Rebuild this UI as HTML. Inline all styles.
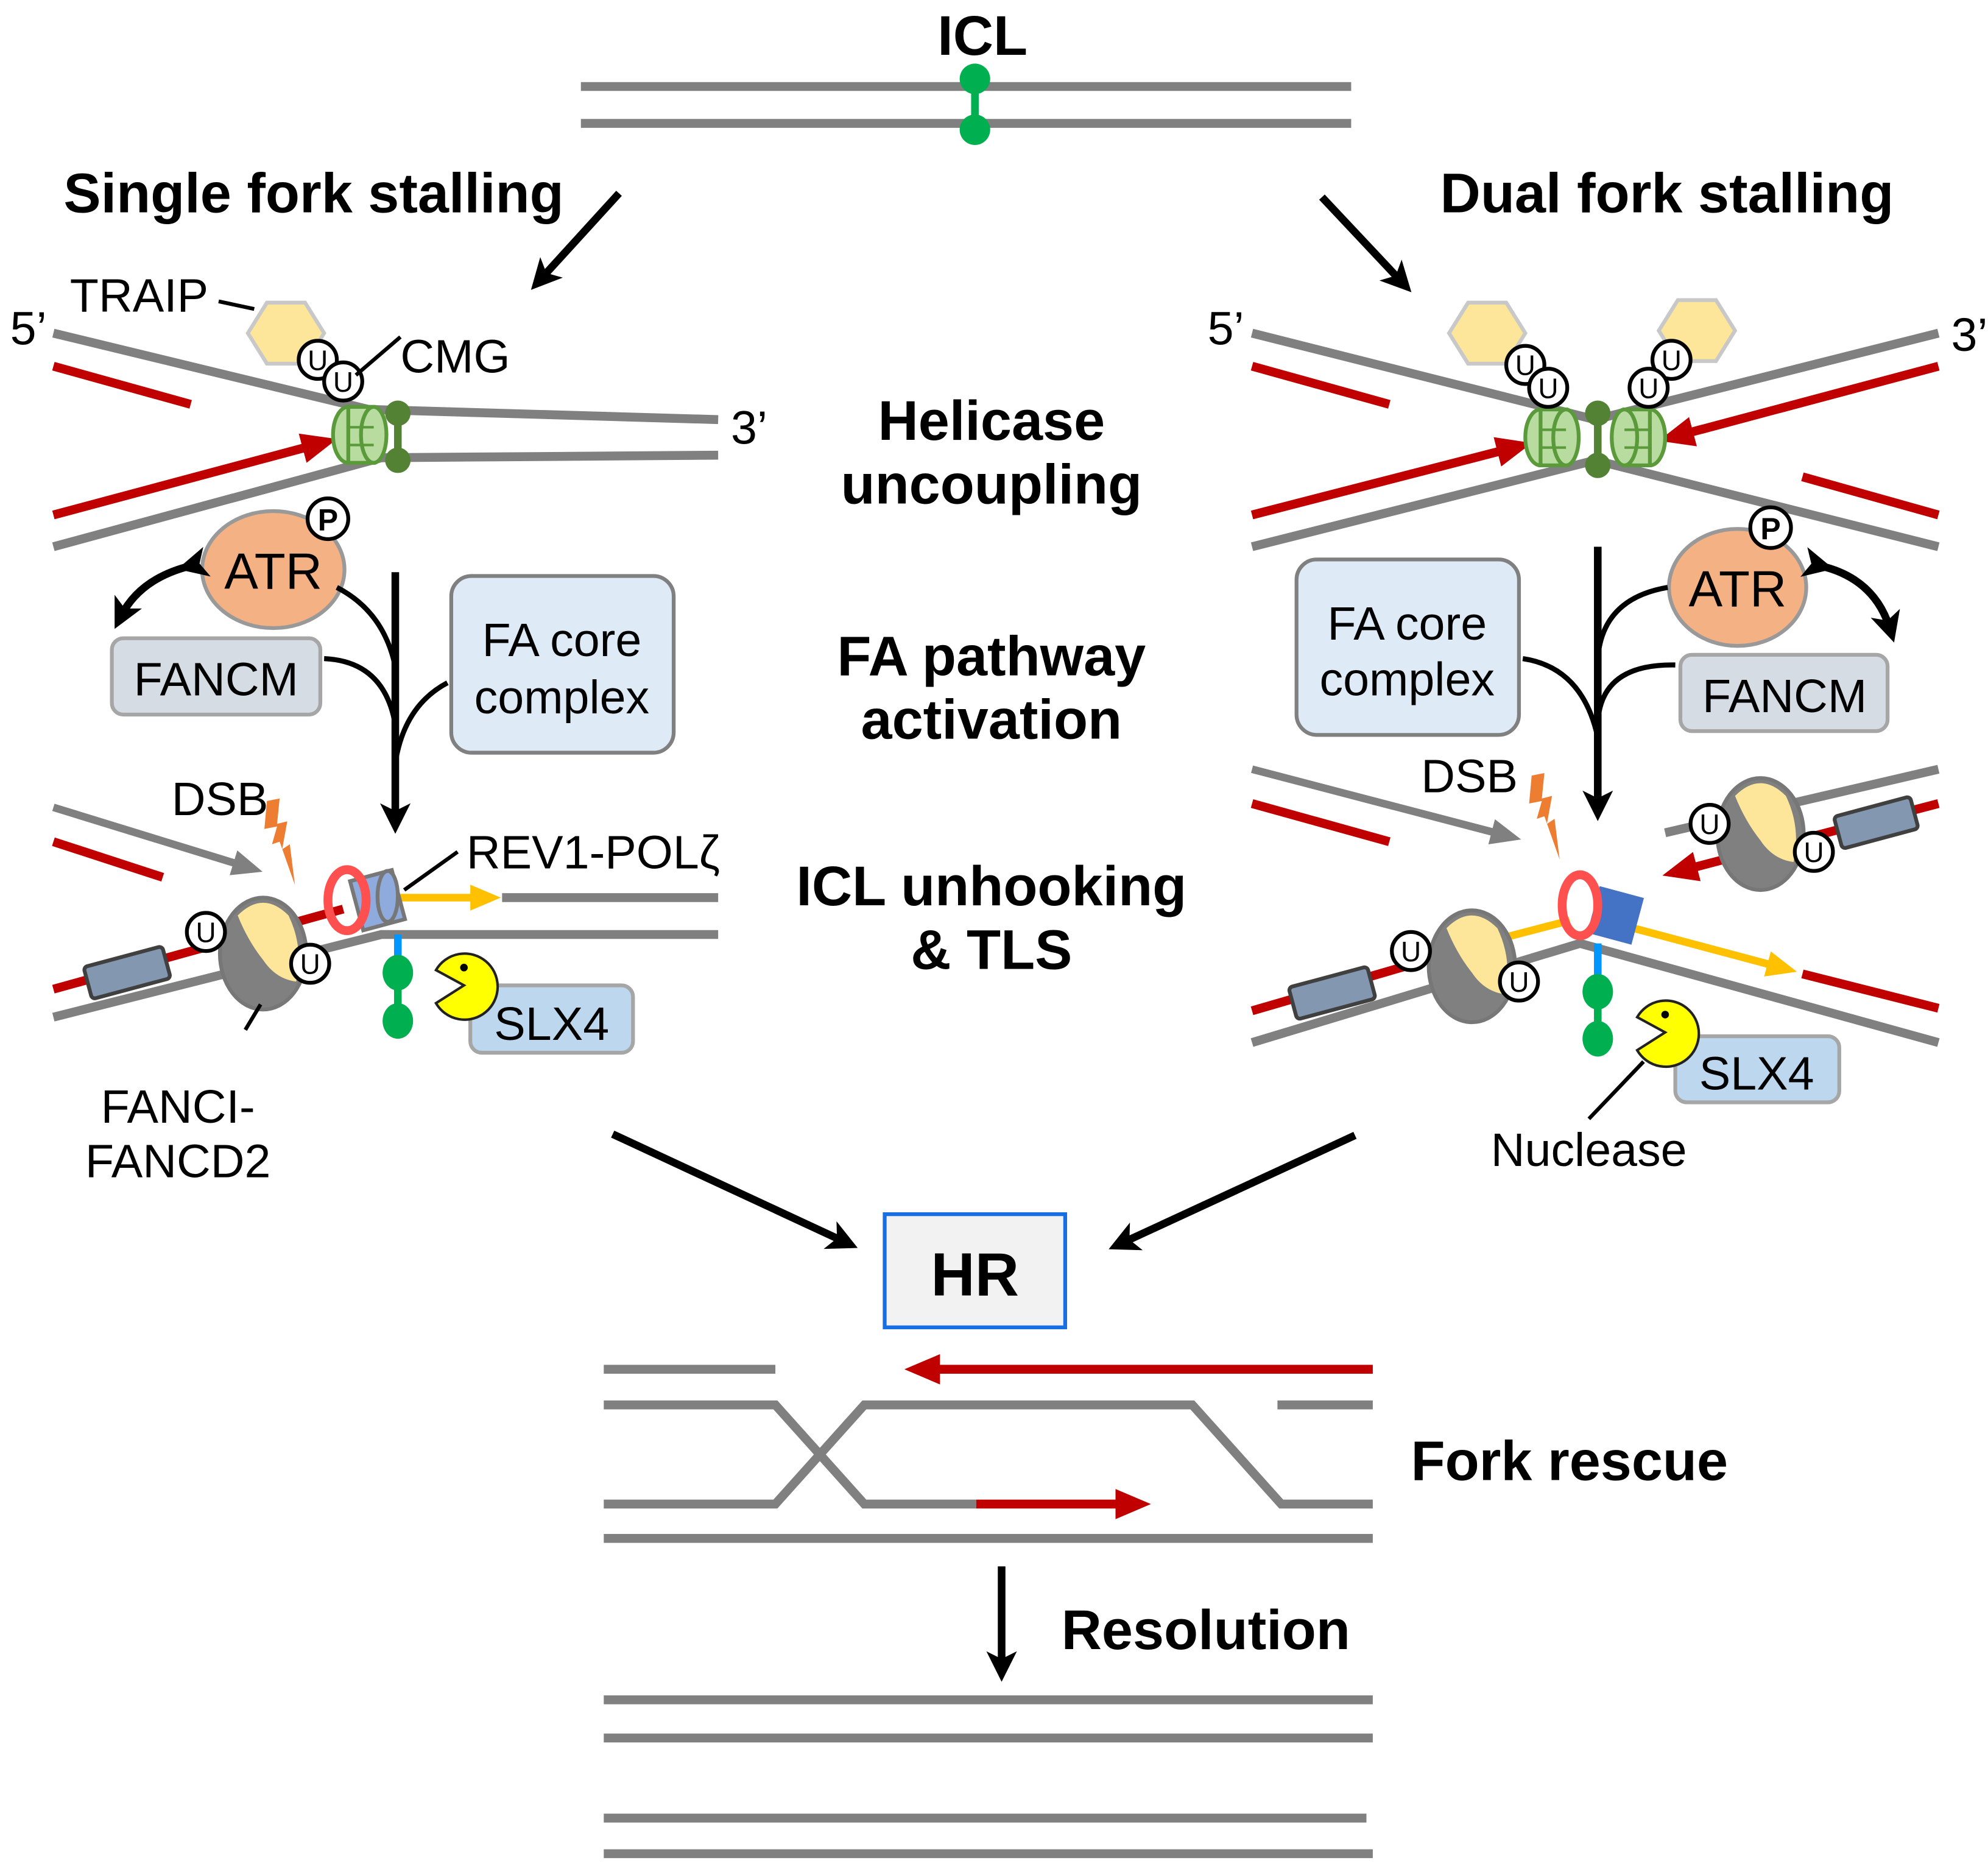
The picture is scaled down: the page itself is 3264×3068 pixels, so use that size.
<!DOCTYPE html>
<html><head><meta charset="utf-8"><style>
html,body{margin:0;padding:0;background:#fff;}
svg{display:block;}
text{font-family:"Liberation Sans",sans-serif;}
.b{font-weight:bold;font-size:44px;}
.n{font-size:37px;}
</style></head><body>
<svg width="3264" height="3068" viewBox="0 0 1564 1470" xmlns="http://www.w3.org/2000/svg">
<defs>
<marker id="ak" markerWidth="4" markerHeight="4" refX="2.2" refY="2" orient="auto" markerUnits="strokeWidth"><path d="M0,0 L4,2 L0,4 L1,2z" fill="#000"/></marker>
<marker id="ar" markerWidth="4" markerHeight="4" refX="2.5" refY="2" orient="auto" markerUnits="strokeWidth"><path d="M0,0.3 L4,2 L0,3.7z" fill="#c00000"/></marker>
<marker id="ag" markerWidth="4" markerHeight="4" refX="2.5" refY="2" orient="auto" markerUnits="strokeWidth"><path d="M0,0.3 L4,2 L0,3.7z" fill="#808080"/></marker>
<marker id="ay" markerWidth="4" markerHeight="4" refX="2.5" refY="2" orient="auto" markerUnits="strokeWidth"><path d="M0,0.3 L4,2 L0,3.7z" fill="#ffc000"/></marker>
<g id="hex"><polygon points="-30,0 -15,-24 15,-24 30,0 15,24 -15,24" fill="#fde69a" stroke="#c8c8c8" stroke-width="3"/></g>
<g id="u"><circle r="15" fill="#fff" stroke="#000" stroke-width="3"/><text y="8" text-anchor="middle" font-size="22">U</text></g>
<g id="cmg"><ellipse cx="-8" cy="0" rx="12" ry="22" fill="#b8dca0" stroke="#5a9a3a" stroke-width="3"/><rect x="-8" y="-22" width="20" height="44" fill="#b8dca0" stroke="#5a9a3a" stroke-width="3"/><ellipse cx="12" cy="0" rx="10" ry="22" fill="#b8dca0" stroke="#5a9a3a" stroke-width="3"/><line x1="-8" y1="-6" x2="12" y2="-6" stroke="#5a9a3a" stroke-width="2"/><line x1="-8" y1="8" x2="12" y2="8" stroke="#5a9a3a" stroke-width="2"/></g>
<g id="fd2"><ellipse cx="0" cy="0" rx="34" ry="44" fill="#808080" stroke="#777" stroke-width="3"/><path d="M-20,-30 Q0,-50 20,-30 Q32,-5 26,22 Q10,20 0,5 Q-12,-10 -20,-30z" fill="#fde69a"/></g>
<g id="pac"><path d="M0,0 L-22,-12 A26,26 0 1 1 -22,14z" fill="#ffff00" stroke="#222" stroke-width="2"/><circle cx="0" cy="-14" r="3" fill="#000"/></g>
<g id="bolt"><polygon points="-12,-38 -2,-40 -4,-20 4,-22 0,0 6,-4 10,28 -2,-6 -8,-4 -4,-18 -14,-16" fill="#ed7d31"/></g>
</defs>

<!-- ICL -->
<text x="773" y="43" class="b" text-anchor="middle">ICL</text>
<line x1="457" y1="68" x2="1063" y2="68" stroke="#808080" stroke-width="7"/>
<line x1="457" y1="97" x2="1063" y2="97" stroke="#808080" stroke-width="7"/>
<line x1="767" y1="62" x2="767" y2="102" stroke="#00b050" stroke-width="6"/>
<circle cx="767" cy="62" r="12" fill="#00b050"/><circle cx="767" cy="102" r="12" fill="#00b050"/>

<text x="50" y="167" class="b">Single fork stalling</text>
<text x="1133" y="167" class="b">Dual fork stalling</text>
<line x1="487" y1="152" x2="425" y2="220" stroke="#000" stroke-width="6" marker-end="url(#ak)"/>
<line x1="1040" y1="155" x2="1103" y2="222" stroke="#000" stroke-width="6" marker-end="url(#ak)"/>

<!-- center labels -->
<g class="b" text-anchor="middle">
<text x="780" y="346">Helicase</text><text x="780" y="396">uncoupling</text>
<text x="780" y="531">FA pathway</text><text x="780" y="581">activation</text>
<text x="780" y="712">ICL unhooking</text><text x="780" y="762">&amp; TLS</text>
</g>

<!-- LEFT fork -->
<polyline points="42,262 290,322 565,330" fill="none" stroke="#808080" stroke-width="7"/>
<polyline points="42,430 300,360 565,358" fill="none" stroke="#808080" stroke-width="7"/>
<line x1="42" y1="288" x2="150" y2="318" stroke="#c00000" stroke-width="7"/>
<line x1="42" y1="405" x2="255" y2="348" stroke="#c00000" stroke-width="7" marker-end="url(#ar)"/>
<use href="#cmg" x="282" y="342"/>
<line x1="313" y1="325" x2="313" y2="362" stroke="#548235" stroke-width="6"/>
<circle cx="313" cy="325" r="10" fill="#548235"/><circle cx="313" cy="362" r="10" fill="#548235"/>
<use href="#hex" x="225" y="262"/>
<use href="#u" x="250" y="283"/><use href="#u" x="270" y="300"/>
<line x1="280" y1="295" x2="315" y2="265" stroke="#000" stroke-width="3"/>
<line x1="172" y1="237" x2="200" y2="243" stroke="#000" stroke-width="3"/>
<text x="8" y="271" class="n">5’</text>
<text x="55" y="245" class="n">TRAIP</text>
<text x="315" y="293" class="n">CMG</text>
<text x="575" y="349" class="n">3’</text>

<ellipse cx="215" cy="448" rx="56" ry="46" fill="#f4b183" stroke="#999" stroke-width="3"/>
<text x="215" y="463" text-anchor="middle" font-size="40">ATR</text>
<circle cx="258" cy="408" r="16" fill="#fff" stroke="#000" stroke-width="3"/>
<text x="258" y="417" text-anchor="middle" font-size="24" font-weight="bold">P</text>
<path d="M150,445 Q110,455 95,485" fill="none" stroke="#000" stroke-width="6" marker-end="url(#ak)" marker-start="url(#ak)"/>
<rect x="88" y="502" width="164" height="60" rx="9" fill="#d6dce4" stroke="#a6a6a6" stroke-width="3"/>
<text x="170" y="547" text-anchor="middle" font-size="37">FANCM</text>
<rect x="355" y="453" width="175" height="139" rx="16" fill="#deebf7" stroke="#808080" stroke-width="3"/>
<text x="442" y="516" text-anchor="middle" font-size="37">FA core</text>
<text x="442" y="561" text-anchor="middle" font-size="37">complex</text>
<line x1="311" y1="450" x2="311" y2="645" stroke="#000" stroke-width="6" marker-end="url(#ak)"/>
<path d="M265,462 Q300,480 310,520" fill="none" stroke="#000" stroke-width="4"/>
<path d="M255,518 Q300,520 310,565" fill="none" stroke="#000" stroke-width="4"/>
<path d="M352,537 Q318,555 311,600" fill="none" stroke="#000" stroke-width="4"/>

<line x1="42" y1="635" x2="198" y2="683" stroke="#808080" stroke-width="6" marker-end="url(#ag)"/>
<line x1="42" y1="662" x2="128" y2="690" stroke="#c00000" stroke-width="7"/>
<text x="135" y="641" class="n">DSB</text>
<use href="#bolt" x="222" y="668"/>
<polyline points="42,800 300,735 565,735" fill="none" stroke="#808080" stroke-width="7"/>
<line x1="42" y1="778" x2="270" y2="715" stroke="#c00000" stroke-width="7"/>
<line x1="395" y1="706" x2="565" y2="706" stroke="#808080" stroke-width="7"/>
<line x1="315" y1="706" x2="385" y2="706" stroke="#ffc000" stroke-width="6" marker-end="url(#ay)"/>
<rect x="280" y="688" width="34" height="40" fill="#8faadc" stroke="#777" stroke-width="3" transform="rotate(-15 297 708)"/>
<ellipse cx="305" cy="705" rx="8" ry="20" fill="#8faadc" stroke="#777" stroke-width="3"/>
<ellipse cx="273" cy="708" rx="15" ry="24" fill="none" stroke="#ff5050" stroke-width="7"/>
<rect x="68" y="752" width="64" height="26" rx="3" fill="#8497b0" stroke="#404040" stroke-width="3" transform="rotate(-15 100 765)"/>
<use href="#fd2" x="207" y="750"/>
<use href="#u" x="162" y="733"/><use href="#u" x="244" y="758"/>
<line x1="205" y1="790" x2="193" y2="810" stroke="#000" stroke-width="3"/>
<line x1="313" y1="735" x2="313" y2="760" stroke="#0096ff" stroke-width="6"/>
<line x1="313" y1="765" x2="313" y2="805" stroke="#00b050" stroke-width="6"/>
<ellipse cx="313" cy="765" rx="12" ry="14" fill="#00b050"/><ellipse cx="313" cy="803" rx="12" ry="14" fill="#00b050"/>
<rect x="370" y="775" width="128" height="53" rx="9" fill="#bdd7ee" stroke="#a6a6a6" stroke-width="3"/>
<use href="#pac" x="365" y="775"/>
<text x="434" y="818" text-anchor="middle" font-size="37">SLX4</text>
<line x1="318" y1="700" x2="360" y2="670" stroke="#000" stroke-width="3"/>
<text x="367" y="683" class="n">REV1-POLζ</text>
<text x="140" y="883" text-anchor="middle" class="n">FANCI-</text>
<text x="140" y="926" text-anchor="middle" class="n">FANCD2</text>

<!-- RIGHT fork -->
<polyline points="985,262 1255,330 1525,262" fill="none" stroke="#808080" stroke-width="7"/>
<polyline points="985,430 1255,362 1525,430" fill="none" stroke="#808080" stroke-width="7"/>
<line x1="985" y1="288" x2="1093" y2="318" stroke="#c00000" stroke-width="7"/>
<line x1="985" y1="405" x2="1195" y2="351" stroke="#c00000" stroke-width="7" marker-end="url(#ar)"/>
<line x1="1525" y1="288" x2="1315" y2="344" stroke="#c00000" stroke-width="7" marker-end="url(#ar)"/>
<line x1="1418" y1="375" x2="1525" y2="405" stroke="#c00000" stroke-width="7"/>
<use href="#cmg" x="1220" y="344"/>
<use href="#cmg" x="1290" y="344" transform="translate(2580 0) scale(-1 1)"/>
<line x1="1257" y1="325" x2="1257" y2="366" stroke="#548235" stroke-width="6"/>
<circle cx="1257" cy="325" r="10" fill="#548235"/><circle cx="1257" cy="366" r="10" fill="#548235"/>
<use href="#hex" x="1170" y="262"/><use href="#hex" x="1335" y="260"/>
<use href="#u" x="1200" y="287"/><use href="#u" x="1218" y="305"/>
<use href="#u" x="1315" y="283"/><use href="#u" x="1297" y="305"/>
<text x="950" y="271" class="n">5’</text>
<text x="1535" y="276" class="n">3’</text>

<ellipse cx="1367" cy="462" rx="54" ry="46" fill="#f4b183" stroke="#999" stroke-width="3"/>
<text x="1367" y="477" text-anchor="middle" font-size="40">ATR</text>
<circle cx="1393" cy="415" r="16" fill="#fff" stroke="#000" stroke-width="3"/>
<text x="1393" y="424" text-anchor="middle" font-size="24" font-weight="bold">P</text>
<path d="M1432,445 Q1475,455 1487,495" fill="none" stroke="#000" stroke-width="6" marker-end="url(#ak)" marker-start="url(#ak)"/>
<rect x="1322" y="515" width="163" height="60" rx="9" fill="#d6dce4" stroke="#a6a6a6" stroke-width="3"/>
<text x="1404" y="560" text-anchor="middle" font-size="37">FANCM</text>
<rect x="1020" y="440" width="175" height="138" rx="16" fill="#deebf7" stroke="#808080" stroke-width="3"/>
<text x="1107" y="503" text-anchor="middle" font-size="37">FA core</text>
<text x="1107" y="547" text-anchor="middle" font-size="37">complex</text>
<line x1="1257" y1="430" x2="1257" y2="635" stroke="#000" stroke-width="6" marker-end="url(#ak)"/>
<path d="M1312,462 Q1265,470 1258,510" fill="none" stroke="#000" stroke-width="4"/>
<path d="M1318,523 Q1265,522 1258,560" fill="none" stroke="#000" stroke-width="4"/>
<path d="M1198,518 Q1245,525 1257,580" fill="none" stroke="#000" stroke-width="4"/>

<line x1="985" y1="605" x2="1188" y2="658" stroke="#808080" stroke-width="6" marker-end="url(#ag)"/>
<line x1="985" y1="632" x2="1093" y2="662" stroke="#c00000" stroke-width="7"/>
<text x="1118" y="623" class="n">DSB</text>
<use href="#bolt" x="1217" y="648"/>
<line x1="1310" y1="655" x2="1525" y2="605" stroke="#808080" stroke-width="7"/>
<line x1="1525" y1="632" x2="1318" y2="686" stroke="#c00000" stroke-width="7" marker-end="url(#ar)"/>
<rect x="1445" y="634" width="62" height="26" rx="3" fill="#8497b0" stroke="#404040" stroke-width="3" transform="rotate(-15 1476 647)"/>
<use href="#fd2" x="1385" y="656"/>
<use href="#u" x="1345" y="648"/><use href="#u" x="1427" y="670"/>

<polyline points="985,820 1243,742 1525,820" fill="none" stroke="#808080" stroke-width="7"/>
<line x1="985" y1="795" x2="1185" y2="737" stroke="#c00000" stroke-width="7"/>
<line x1="1185" y1="737" x2="1235" y2="724" stroke="#ffc000" stroke-width="6"/>
<line x1="1285" y1="730" x2="1405" y2="762" stroke="#ffc000" stroke-width="6" marker-end="url(#ay)"/>
<line x1="1418" y1="766" x2="1525" y2="793" stroke="#c00000" stroke-width="7"/>
<rect x="1254" y="702" width="34" height="36" fill="#4472c4" stroke="#4472c4" stroke-width="2" transform="rotate(15 1271 720)"/>
<ellipse cx="1243" cy="712" rx="14" ry="24" fill="none" stroke="#ff5050" stroke-width="7"/>
<rect x="1016" y="768" width="64" height="26" rx="3" fill="#8497b0" stroke="#404040" stroke-width="3" transform="rotate(-15 1048 781)"/>
<use href="#fd2" x="1158" y="760"/>
<use href="#u" x="1110" y="748"/><use href="#u" x="1195" y="772"/>
<line x1="1257" y1="742" x2="1257" y2="775" stroke="#0096ff" stroke-width="6"/>
<line x1="1257" y1="780" x2="1257" y2="818" stroke="#00b050" stroke-width="6"/>
<ellipse cx="1257" cy="780" rx="12" ry="14" fill="#00b050"/><ellipse cx="1257" cy="817" rx="12" ry="14" fill="#00b050"/>
<rect x="1318" y="815" width="129" height="52" rx="9" fill="#bdd7ee" stroke="#a6a6a6" stroke-width="3"/>
<use href="#pac" x="1310" y="812"/>
<text x="1382" y="857" text-anchor="middle" font-size="37">SLX4</text>
<line x1="1250" y1="880" x2="1293" y2="835" stroke="#000" stroke-width="3"/>
<text x="1250" y="917" text-anchor="middle" class="n">Nuclease</text>

<!-- HR -->
<line x1="482" y1="892" x2="665" y2="977" stroke="#000" stroke-width="6" marker-end="url(#ak)"/>
<line x1="1066" y1="893" x2="882" y2="978" stroke="#000" stroke-width="6" marker-end="url(#ak)"/>
<rect x="696" y="955" width="142" height="89" fill="#f2f2f2" stroke="#1a6fe0" stroke-width="3"/>
<text x="767" y="1019" text-anchor="middle" font-weight="bold" font-size="48">HR</text>

<!-- Fork rescue -->
<g fill="none" stroke="#808080" stroke-width="7">
<line x1="475" y1="1077" x2="610" y2="1077"/>
<polyline points="475,1105 610,1105 680,1183 768,1183"/>
<polyline points="475,1183 610,1183 680,1105 938,1105 1008,1183 1080,1183"/>
<line x1="1005" y1="1105" x2="1080" y2="1105"/>
<line x1="475" y1="1210" x2="1080" y2="1210"/>
<line x1="475" y1="1337" x2="1080" y2="1337"/>
<line x1="475" y1="1367" x2="1080" y2="1367"/>
<line x1="475" y1="1430" x2="1075" y2="1430"/>
<line x1="475" y1="1458" x2="1080" y2="1458"/>
</g>
<line x1="1080" y1="1077" x2="722" y2="1077" stroke="#c00000" stroke-width="7" marker-end="url(#ar)"/>
<line x1="768" y1="1183" x2="895" y2="1183" stroke="#c00000" stroke-width="7" marker-end="url(#ar)"/>
<text x="1110" y="1164" class="b">Fork rescue</text>
<line x1="788" y1="1232" x2="788" y2="1312" stroke="#000" stroke-width="6" marker-end="url(#ak)"/>
<text x="835" y="1297" class="b">Resolution</text>
</svg>
</body></html>
